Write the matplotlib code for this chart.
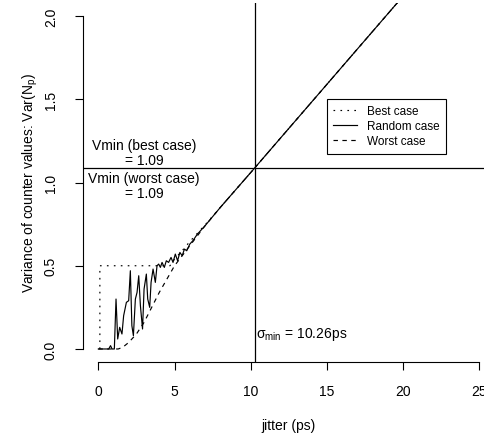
import matplotlib
matplotlib.use("Agg")
import matplotlib.pyplot as plt

plt.rcParams["font.family"] = ["Liberation Sans", "DejaVu Sans"]
plt.rcParams["mathtext.fontset"] = "custom"
plt.rcParams["mathtext.rm"] = "Liberation Sans"
plt.rcParams["mathtext.it"] = "Liberation Sans:italic"
plt.rcParams["mathtext.default"] = "regular"
plt.rcParams["lines.scale_dashes"] = False

# values
best_x = [0.1, 0.1, 0.5, 1, 2, 3, 4, 4.7, 5.0, 5.5, 6, 6.5, 7, 8, 10, 15, 20, 25]
best_y = [0, 0.5, 0.5, 0.5, 0.5, 0.5, 0.5, 0.5, 0.54, 0.59, 0.645, 0.695, 0.745,
          0.85, 1.06, 1.59, 2.12, 2.65]

worst_x = [0, 1.3, 1.6, 2.0, 2.5, 3.0, 3.5, 4.0, 4.5, 5.0, 5.5, 6, 6.5, 7, 8,
           10, 15, 20, 25]
worst_y = [0, 0, 0.01, 0.04, 0.09, 0.16, 0.25, 0.34, 0.42, 0.50, 0.56, 0.62,
           0.68, 0.74, 0.85, 1.06, 1.59, 2.12, 2.65]

rand_x = [0, 0.68, 0.8, 0.9, 1.05, 1.16, 1.27, 1.4, 1.55, 1.66, 1.84, 1.99,
          2.1, 2.2, 2.3, 2.43, 2.54, 2.65, 2.76, 2.9, 3.0, 3.15, 3.24, 3.37,
          3.46, 3.59, 3.74, 3.85, 3.96, 4.07, 4.18, 4.33, 4.46, 4.61, 4.77,
          4.9, 5.05, 5.2, 5.35, 5.5, 5.65, 5.8, 6.0, 6.2, 6.5, 7, 8, 10, 15,
          20, 25]
rand_y = [0, 0, 0.02, 0, 0, 0.30, 0.06, 0.13, 0.09, 0.20, 0.28, 0.29, 0.47,
          0.14, 0.08, 0.30, 0.34, 0.44, 0.26, 0.12, 0.36, 0.45, 0.30, 0.25,
          0.40, 0.48, 0.40, 0.50, 0.51, 0.49, 0.52, 0.49, 0.53, 0.52, 0.55,
          0.52, 0.57, 0.53, 0.58, 0.56, 0.60, 0.59, 0.63, 0.65, 0.69, 0.74,
          0.85, 1.06, 1.59, 2.12, 2.65]

sigma_min = 10.26
v_min = 1.09
x_ticks = [0, 5, 10, 15, 20, 25]
y_ticks = [0.0, 0.5, 1.0, 1.5, 2.0]

W, H = 484, 439
fig = plt.figure(figsize=(W / 100, H / 100), dpi=100)
ax = fig.add_axes([83.1 / W, (H - 363.3) / H, 411.5 / W, 359.6 / H])
ax.set_xlim(-1, 26)
ax.set_ylim(-0.08, 2.08)

lw = 0.85
dotted = (0, (1.2, 3.8))
dashed = (0, (3.2, 3.2))
ax.plot(best_x, best_y, color="black", lw=lw, linestyle=dotted, label="Best case")
ax.plot(rand_x, rand_y, color="black", lw=lw, label="Random case")
ax.plot(worst_x, worst_y, color="black", lw=lw, linestyle=dashed, label="Worst case")

ax.axhline(v_min, color="black", lw=0.9)
ax.axvline(sigma_min, color="black", lw=0.9)

# R-like axes: no box, axis lines only over the tick range
for s in ["top", "right"]:
    ax.spines[s].set_visible(False)
ax.spines["left"].set_bounds(0, 2)
ax.spines["bottom"].set_bounds(0, 25)
for s in ["left", "bottom"]:
    ax.spines[s].set_linewidth(0.8)
ax.set_xticks(x_ticks)
ax.set_xticklabels([str(t) for t in x_ticks])
ax.set_yticks(y_ticks)
ax.set_yticklabels([f"{t:.1f}" for t in y_ticks], rotation=90, va="center")
ax.tick_params(axis="x", length=6.1, width=0.8, pad=9.4, labelsize=10)
ax.tick_params(axis="y", length=6.1, width=0.8, pad=12, labelsize=10)

ax.text(3, 1.201, "Vmin (best case)", ha="center", va="baseline", fontsize=10)
ax.text(3, 1.111, "= 1.09", ha="center", va="baseline", fontsize=10)
ax.text(3, 1.001, "Vmin (worst case)", ha="center", va="baseline", fontsize=10)
ax.text(3, 0.911, "= 1.09", ha="center", va="baseline", fontsize=10)
ax.text(10.37, 0.074, r"$\sigma_{min}$ = 10.26ps", ha="left", va="baseline",
        fontsize=10)

leg = ax.legend(loc="upper left", bbox_to_anchor=(327 / W, 1 - 100 / H),
                bbox_transform=fig.transFigure, borderaxespad=0, fontsize=8.5,
                handlelength=1.95, handletextpad=0.9, labelspacing=0.25,
                borderpad=0.55, fancybox=False, framealpha=1)
leg.get_frame().set_edgecolor("black")
leg.get_frame().set_linewidth(0.8)

fig.text(289 / W, 1 - 426 / H, "jitter (ps)", ha="center", va="center", fontsize=10)
fig.text(30.5 / W, 1 - 183 / H, r"Variance of counter values: Var(N$_{p}$)",
         ha="center", va="center", rotation=90, fontsize=10)

fig.savefig("out.png", dpi=100)
